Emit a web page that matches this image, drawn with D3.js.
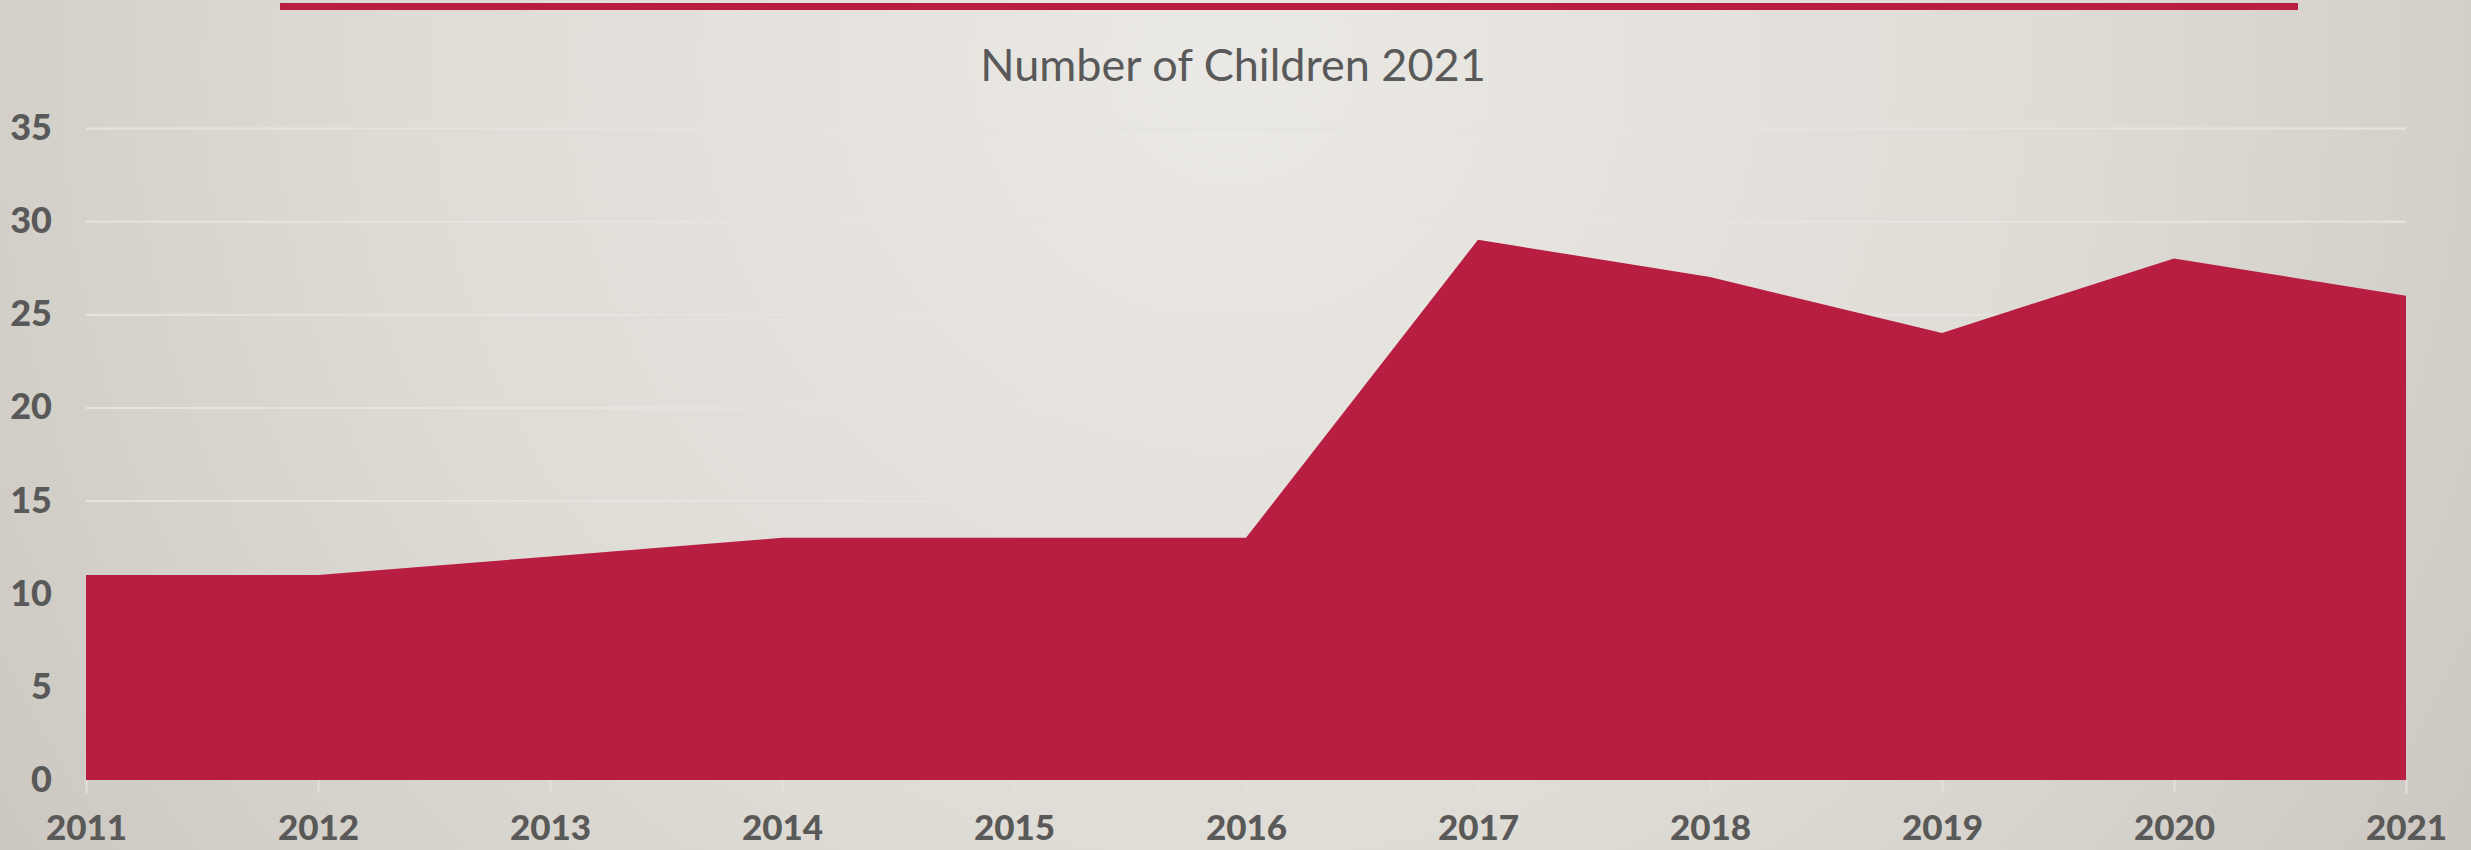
<!DOCTYPE html>
<html>
<head>
<meta charset="utf-8">
<script src="https://cdn.jsdelivr.net/npm/d3@7"></script>
<style>
  html, body { margin: 0; padding: 0; overflow: hidden; }
  body { width: 2471px; height: 850px; }
  .axis text { font-family: Lato, "Open Sans", sans-serif; font-weight: 900; fill: #595959; }
  .axis .domain { display: none; }
</style>
</head>
<body>
<div id="chart"></div>
<script>
const years = ['2011', '2012', '2013', '2014', '2015', '2016', '2017', '2018', '2019', '2020', '2021'];
const children = [11, 11, 12, 13, 13, 13, 29, 27, 24, 28, 26];
const yTicks = [0, 5, 10, 15, 20, 25, 30, 35];
const title = 'Number of Children 2021';

const width = 2471;
const height = 850;
const margin = {left: 86, right: 65, top: 128, bottom: 70};

const svg = d3.select('#chart')
              .append('svg')
              .attr('width', width)
              .attr('height', height);

// background gradient, lighter near the title
const defs = svg.append('defs');
const grad = defs.append('radialGradient')
                 .attr('id', 'bg')
                 .attr('gradientUnits', 'userSpaceOnUse')
                 .attr('cx', 1230).attr('cy', 60)
                 .attr('r', 1500);
grad.append('stop').attr('offset', '0%').attr('stop-color', '#ebe9e5');
grad.append('stop').attr('offset', '55%').attr('stop-color', '#dfdcd6');
grad.append('stop').attr('offset', '100%').attr('stop-color', '#cbc7c0');

svg.append('rect')
   .attr('width', width)
   .attr('height', height)
   .attr('fill', 'url(#bg)');

// red bar at the top
svg.append('rect')
   .attr('x', 280)
   .attr('y', 3)
   .attr('width', 2018)
   .attr('height', 7)
   .attr('fill', '#b81e42');

svg.append('text')
   .attr('x', 1233)
   .attr('y', 81)
   .attr('text-anchor', 'middle')
   .style('font-family', 'Lato, "Open Sans", sans-serif')
   .style('font-size', '45px')
   .style('fill', '#595959')
   .text(title);

const xScale = d3.scalePoint()
                 .domain(years)
                 .range([margin.left, width - margin.right]);

const yScale = d3.scaleLinear()
                 .domain([0, 35])
                 .range([height - margin.bottom, margin.top]);

// gridlines
svg.append('g')
   .attr('class', 'grid')
   .attr('transform', `translate(${margin.left}, 0)`)
   .call(d3.axisLeft(yScale)
           .tickValues(yTicks.slice(1))
           .tickSize(-(width - margin.left - margin.right))
           .tickFormat(''))
   .call(g => g.select('.domain').remove())
   .call(g => g.selectAll('line').attr('stroke', '#e6e4e0').attr('stroke-width', 2));

const area = d3.area()
               .x((d, i) => xScale(years[i]))
               .y0(yScale(0))
               .y1(d => yScale(d));

svg.append('path')
   .datum(children)
   .attr('d', area)
   .attr('fill', '#b81e42');

const yAxis = d3.axisLeft(yScale)
                .tickValues(yTicks)
                .tickSize(0)
                .tickPadding(34);

svg.append('g')
   .attr('class', 'axis')
   .attr('transform', `translate(${margin.left}, 0)`)
   .call(yAxis)
   .call(g => g.selectAll('text').style('font-size', '36px'));

const xAxis = d3.axisBottom(xScale)
                .tickSize(13)
                .tickPadding(22);

svg.append('g')
   .attr('class', 'axis')
   .attr('transform', `translate(0, ${yScale(0)})`)
   .call(xAxis)
   .call(g => g.selectAll('line').attr('stroke', '#e4e1dc').attr('stroke-width', 2))
   .call(g => g.selectAll('text').style('font-size', '35px'));
</script>
</body>
</html>
